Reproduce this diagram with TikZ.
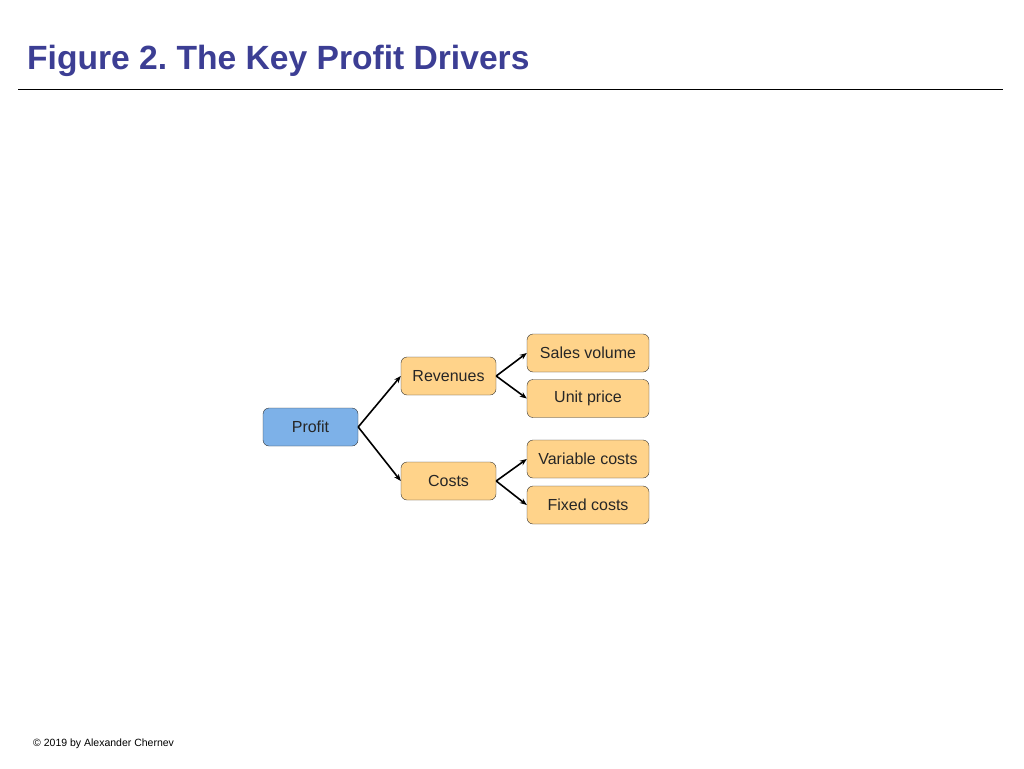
\documentclass[tikz,border=0pt]{standalone}
\usepackage{fontspec}
\setmainfont{Liberation Sans}
\usetikzlibrary{
  arrows.meta, % For arrow tips
  positioning
}
\definecolor{titleblue}{RGB}{60,62,148}
\definecolor{boxblue}{RGB}{125,177,232}
\definecolor{boxorange}{RGB}{255,211,138}

\begin{document}
\frenchspacing
\begin{tikzpicture}[
      x=1pt, y=-1pt, % Pixel-like coordinates, y downwards
      >={Stealth[length=7pt,width=5.5pt]}, % Default arrow tip
      driver/.style={draw=black!80, thin, rounded corners=6pt, fill=boxorange,
        minimum width=95pt, minimum height=38pt, inner sep=0pt,
        font=\fontsize{16pt}{18pt}\selectfont, text=black!85}, % Style for boxes
      subdriver/.style={driver, minimum width=122pt}, % Wider boxes on the right
      link/.style={->, line width=1.6pt}, % Style for arrows
    ]

    % Fix the page size
    \useasboundingbox (0,0) rectangle (1024,768);

    % Title and rule
    \node[anchor=base west, inner sep=0pt, text=titleblue, font=\fontsize{33.6pt}{38pt}\selectfont\bfseries]
      (title) at (27,70) {Figure 2. The Key Profit Drivers};
    \draw[thin] (18,89) -- (1003,89);

    % Main box
    \node[driver, fill=boxblue] (profit) at (310.5,427) {Profit};

    % First level
    \node[driver] (revenues) at (448.5,376) {Revenues};
    \node[driver] (costs) at (448.5,481) {Costs};

    % Second level
    \node[subdriver] (volume) at (588,353) {Sales volume};
    \node[subdriver] (price) at (588,398.5) {Unit price};
    \node[subdriver] (varcosts) at (588,459) {Variable costs};
    \node[subdriver] (fixcosts) at (588,505) {Fixed costs};

    % Arrows
    \draw[link] (profit.east) -- (revenues.west);
    \draw[link] (profit.east) -- (costs.west);
    \draw[link] (revenues.east) -- (volume.west);
    \draw[link] (revenues.east) -- (price.west);
    \draw[link] (costs.east) -- (varcosts.west);
    \draw[link] (costs.east) -- (fixcosts.west);

    % Footer
    \node[anchor=base west, inner sep=0pt, font=\fontsize{10.5pt}{12pt}\selectfont]
      (footer) at (33,746) {\textcopyright{} 2019 by Alexander Chernev};

  \end{tikzpicture}
\end{document}
